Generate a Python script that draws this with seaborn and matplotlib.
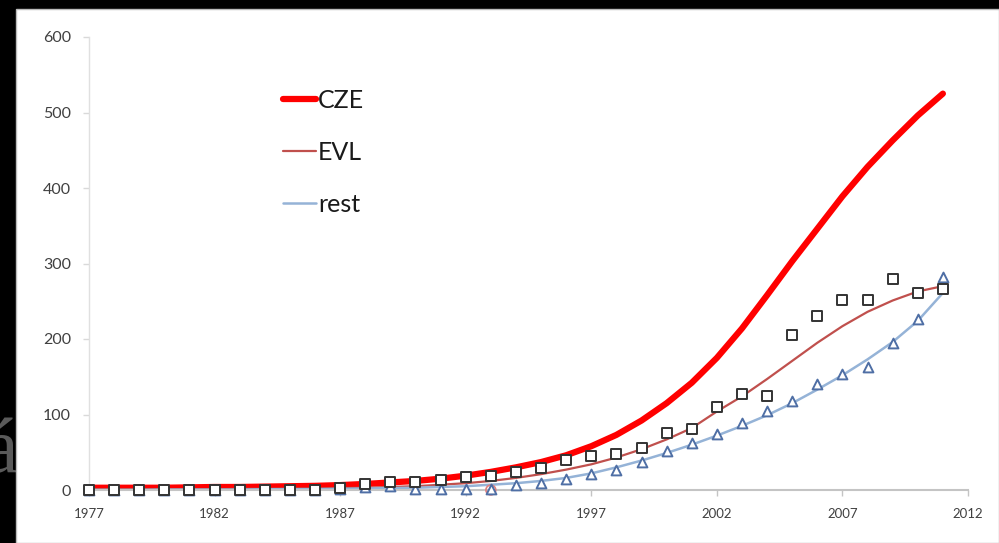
import pandas as pd
import numpy as np
import matplotlib
matplotlib.use('Agg')
import matplotlib.pyplot as plt
from matplotlib.patches import Rectangle
import seaborn as sns

# data
years = list(range(1977, 2012))

# fitted curves
cze = [3, 3, 3, 3, 3.5, 4, 4, 4.5, 5, 5.5, 6.5, 8, 10, 12, 15, 19, 24, 30, 37, 46,
       58, 73, 92, 115, 142, 175, 214, 258, 303, 346, 389, 428, 463, 496, 525]
evl = [1, 1, 1, 1, 1, 1, 1.5, 1.5, 2, 2, 2.5, 3, 4, 5, 7, 9, 12, 16, 21, 27,
       34, 43, 54, 67, 82, 104, 124, 147, 171, 195, 217, 236, 251, 263, 270]
rest = [0, 0, 0, 0.5, 0.5, 0.5, 0.5, 1, 1, 1, 1.5, 2, 2.5, 3, 4, 5, 7, 9, 12, 16,
        22, 30, 39, 49, 60, 72, 85, 99, 115, 133, 152, 173, 196, 224, 261]

# observed points
evl_obs = [0, 0, 0, 0, 0, 0, 0, 0, 0, 0, 2, 8, 10, 11, 13, 17, 19, 24, 29, 40,
           45, 48, 56, 75, 81, 110, 127, 124, 205, 230, 252, 251, 280, 261, 266]
rest_obs = [0, 0, 0, 0, 0, 0, 0, 0, 0, 0, 1, 4, 5, 1, 1, 1, 1, 7, 9, 14,
            21, 26, 37, 52, 62, 74, 89, 105, 118, 141, 153, 163, 195, 226, 282]
cze_obs_years = [1993]
cze_obs = [0]

x_ticks = list(range(1977, 2013, 5))
y_ticks = list(range(0, 601, 100))

curves = pd.DataFrame({'year': years, 'CZE': cze, 'EVL': evl, 'rest': rest})
obs = pd.DataFrame({'year': years, 'EVL': evl_obs, 'rest': rest_obs})

sns.set_theme(style='white')
plt.rcParams['font.family'] = ['Lato', 'DejaVu Sans']

fig = plt.figure(figsize=(9.99, 5.43), dpi=100, facecolor='black')

# stray letter peeking out on the left, under the white panel
fig.text(18 / 999, 1 - 472 / 543, 'á', ha='right', va='baseline',
         fontsize=56, color='#5a5a5a', family='Liberation Serif', zorder=-2)
fig.patches.append(Rectangle((16 / 999, 0), 1 - 16 / 999, 1 - 9 / 543,
                             transform=fig.transFigure, facecolor='white',
                             edgecolor='#bbbbbb', linewidth=1, zorder=-1))

ax = fig.add_axes([89 / 999, 1 - 490 / 543, 879 / 999, 453 / 543])
ax.set_facecolor('none')

sns.lineplot(data=curves, x='year', y='CZE', color='#ff0000', linewidth=4.5,
             ax=ax, label='CZE', solid_capstyle='round', zorder=2)
sns.lineplot(data=curves, x='year', y='EVL', color='#c0504d', linewidth=1.6,
             ax=ax, label='EVL', zorder=2)
sns.lineplot(data=curves, x='year', y='rest', color='#95b3d7', linewidth=1.8,
             ax=ax, label='rest', zorder=2)

ax.scatter(cze_obs_years, cze_obs, s=50, marker='o', facecolors='none',
           edgecolors='#e08080', linewidths=1.2, zorder=3, clip_on=False)
sns.scatterplot(data=obs, x='year', y='rest', marker='^', s=50, color='white',
                edgecolor='#4f6fa5', linewidth=1.4, ax=ax, zorder=4,
                clip_on=False, legend=False)
sns.scatterplot(data=obs, x='year', y='EVL', marker='s', s=50, color='white',
                edgecolor='#333333', linewidth=1.4, ax=ax, zorder=5,
                clip_on=False, legend=False)

ax.set_xlim(1977, 2012)
ax.set_ylim(0, 600)
ax.set_xticks(x_ticks)
ax.set_yticks(y_ticks)
ax.set_xlabel('')
ax.set_ylabel('')

for s in ['top', 'right']:
    ax.spines[s].set_visible(False)
ax.spines['left'].set_color('#e0e0e0')
ax.spines['bottom'].set_color('#c4c4c4')
ax.spines['left'].set_linewidth(1)
ax.spines['bottom'].set_linewidth(1.5)
ax.tick_params(axis='y', direction='out', length=4, width=1, color='#d9d9d9',
               labelsize=11.5, labelcolor='#404040', pad=9, left=True)
ax.tick_params(axis='x', direction='out', length=4, width=1, color='#c4c4c4',
               labelsize=9.5, labelcolor='#404040', pad=9, bottom=True)

leg = ax.legend(loc='upper left', bbox_to_anchor=((283 - 89) / 879, (490 - 89) / 453),
                frameon=False, fontsize=18, handlelength=1.3, handletextpad=0.1,
                labelspacing=1.15, borderpad=0, borderaxespad=0)
for t in leg.get_texts():
    t.set_color('#1a1a1a')

plt.savefig('out.png', dpi=100, facecolor='black')
